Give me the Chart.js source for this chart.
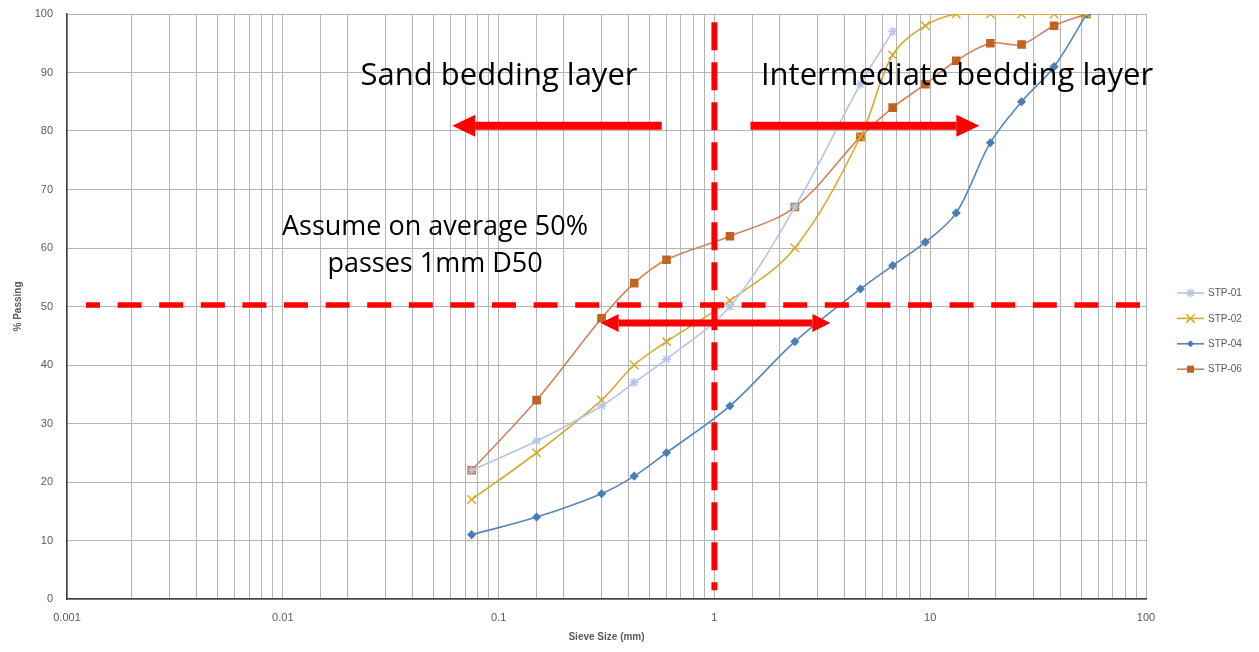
<!DOCTYPE html>
<html>
<head>
<meta charset="utf-8">
<title>Sieve analysis</title>
<script src="https://cdn.jsdelivr.net/npm/chart.js@4.4.1/dist/chart.umd.min.js"></script>
<style>
  html, body { margin: 0; padding: 0; background: #ffffff; }
  #wrap { width: 1259px; height: 652px; position: relative; }
</style>
</head>
<body>
<div id="wrap"><canvas id="myChart" width="1259" height="652"></canvas></div>
<script>
'use strict';

// sieve sizes (mm)
var sieveSizes = [0.075, 0.15, 0.3, 0.425, 0.6, 1.18, 2.36, 4.75, 6.7, 9.5, 13.2, 19, 26.5, 37.5, 53];

// % passing per test pit
var stp01 = [22, 27, 33, 37, 41, 50, 67, 88, 97];
var stp02 = [17, 25, 34, 40, 44, 51, 60, 79, 93, 98, 100, 100, 100, 100, 100];
var stp04 = [11, 14, 18, 21, 25, 33, 44, 53, 57, 61, 66, 78, 85, 91, 100];
var stp06 = [22, 34, 48, 54, 58, 62, 67, 79, 84, 88, 92, 95, 94.8, 98, 100];

var seriesNames = ['STP-01', 'STP-02', 'STP-04', 'STP-06'];
var yTicks = [0, 10, 20, 30, 40, 50, 60, 70, 80, 90, 100];

function toPoints(values) {
	var pts = [];
	for (var i = 0; i < values.length; i++) {
		pts.push({ x: sieveSizes[i], y: values[i] });
	}
	return pts;
}

var styles = [
	{ line: '#b7c3e8', fill: '#b7c3e8', point: 'star', r: 4.5 },
	{ line: '#d8aa2c', fill: '#d8aa2c', point: 'crossRot', r: 6 },
	{ line: '#5287bf', fill: '#4a7eb8', point: 'rectRot', r: 3.5 },
	{ line: '#d0845a', fill: '#c2621f', point: 'rect', r: 5 }
];

var allValues = [stp01, stp02, stp04, stp06];
var datasets = [];
for (var s = 0; s < allValues.length; s++) {
	datasets.push({
		label: seriesNames[s],
		data: toPoints(allValues[s]),
		showLine: true,
		tension: 0.35,
		borderColor: styles[s].line,
		borderWidth: 1.6,
		pointStyle: styles[s].point,
		pointRadius: styles[s].r,
		pointHoverRadius: styles[s].r,
		pointBackgroundColor: styles[s].fill,
		pointBorderColor: styles[s].fill,
		pointBorderWidth: 1.5
	});
}

function isDecade(v) {
	var l = Math.log10(v);
	return Math.abs(l - Math.round(l)) < 1e-6;
}

// filled arrow along a horizontal line
function arrow(ctx, x1, x2, y, shaft, headLen, headHalf, both) {
	var dir = x2 > x1 ? 1 : -1;
	var sx = both ? x1 + dir * headLen : x1;
	var ex = x2 - dir * headLen;
	ctx.beginPath();
	ctx.rect(Math.min(sx, ex), y - shaft / 2, Math.abs(ex - sx), shaft);
	ctx.fill();
	ctx.beginPath();
	ctx.moveTo(x2, y);
	ctx.lineTo(ex, y - headHalf);
	ctx.lineTo(ex, y + headHalf);
	ctx.closePath();
	ctx.fill();
	if (both) {
		ctx.beginPath();
		ctx.moveTo(x1, y);
		ctx.lineTo(sx, y - headHalf);
		ctx.lineTo(sx, y + headHalf);
		ctx.closePath();
		ctx.fill();
	}
}

function drawMarker(ctx, style, x, y, r, color) {
	ctx.save();
	ctx.strokeStyle = color;
	ctx.fillStyle = color;
	ctx.lineWidth = 1.5;
	ctx.beginPath();
	var d;
	if (style === 'rect') {
		d = r * Math.SQRT1_2;
		ctx.rect(x - d, y - d, 2 * d, 2 * d);
		ctx.fill();
	} else if (style === 'rectRot') {
		ctx.moveTo(x, y - r); ctx.lineTo(x + r, y); ctx.lineTo(x, y + r); ctx.lineTo(x - r, y);
		ctx.closePath();
		ctx.fill();
	} else if (style === 'crossRot') {
		d = r * Math.SQRT1_2;
		ctx.moveTo(x - d, y - d); ctx.lineTo(x + d, y + d);
		ctx.moveTo(x + d, y - d); ctx.lineTo(x - d, y + d);
		ctx.stroke();
	} else {
		d = r * Math.SQRT1_2;
		ctx.moveTo(x - d, y - d); ctx.lineTo(x + d, y + d);
		ctx.moveTo(x + d, y - d); ctx.lineTo(x - d, y + d);
		ctx.moveTo(x, y - r); ctx.lineTo(x, y + r);
		ctx.moveTo(x - r, y); ctx.lineTo(x + r, y);
		ctx.stroke();
	}
	ctx.restore();
}

var overlayPlugin = {
	id: 'overlay',
	afterDraw: function(chart) {
		var ctx = chart.ctx;
		var xs = chart.scales.x;
		var ys = chart.scales.y;
		var area = chart.chartArea;
		ctx.save();

		// legend on the right
		ctx.font = '10px "Liberation Sans", Arial, sans-serif';
		ctx.textBaseline = 'middle';
		ctx.textAlign = 'left';
		for (var i = 0; i < datasets.length; i++) {
			var ly = 293 + i * 25.4;
			ctx.strokeStyle = styles[i].line;
			ctx.lineWidth = 1.6;
			ctx.beginPath();
			ctx.moveTo(1177, ly);
			ctx.lineTo(1204, ly);
			ctx.stroke();
			drawMarker(ctx, styles[i].point, 1190.5, ly, styles[i].r, styles[i].fill);
			ctx.fillStyle = '#595959';
			ctx.fillText(seriesNames[i], 1208, ly + 0.5);
		}

		ctx.strokeStyle = '#ff0000';
		ctx.fillStyle = '#ff0000';

		// D50 horizontal line
		var y50 = ys.getPixelForValue(50) - 1.5;
		ctx.lineWidth = 5.5;
		ctx.setLineDash([24, 17.6]);
		ctx.lineDashOffset = 10;
		ctx.beginPath();
		ctx.moveTo(area.left + 19, y50);
		ctx.lineTo(area.right - 5, y50);
		ctx.stroke();

		// 1 mm vertical line
		var x1 = xs.getPixelForValue(1);
		ctx.lineWidth = 6;
		ctx.lineDashOffset = 0;
		ctx.setLineDash([28, 12]);
		ctx.beginPath();
		ctx.moveTo(x1, ys.getPixelForValue(98.6));
		ctx.lineTo(x1, ys.getPixelForValue(1.5));
		ctx.stroke();
		ctx.setLineDash([]);

		// arrows
		var yArrow = ys.getPixelForValue(80.9);
		arrow(ctx, xs.getPixelForValue(0.57), xs.getPixelForValue(0.061), yArrow, 8, 23, 11, false);
		arrow(ctx, xs.getPixelForValue(1.47), xs.getPixelForValue(16.9), yArrow, 8, 23, 11, false);
		arrow(ctx, xs.getPixelForValue(0.297), xs.getPixelForValue(3.45), ys.getPixelForValue(47.2), 7, 18, 9, true);

		// text
		ctx.fillStyle = '#000000';
		ctx.textAlign = 'center';
		ctx.textBaseline = 'middle';
		ctx.font = '31px "Open Sans", sans-serif';
		ctx.fillText('Sand bedding layer', 499, 76);
		ctx.fillText('Intermediate bedding layer', 957, 76);
		ctx.font = '27px "Open Sans", sans-serif';
		ctx.fillText('Assume on average 50%', 435, 227);
		ctx.fillText('passes 1mm D50', 435, 264);

		ctx.restore();
	}
};

var ctx = document.getElementById('myChart');
var myChart = new Chart(ctx, {
	type: 'scatter',
	data: { datasets: datasets },
	plugins: [overlayPlugin],
	options: {
		responsive: false,
		animation: false,
		layout: { padding: { left: 0, right: 113, top: 14, bottom: 0 } },
		plugins: {
			legend: { display: false },
			tooltip: { enabled: false }
		},
		scales: {
			x: {
				type: 'logarithmic',
				min: 0.001,
				max: 100,
				afterFit: function(scale) {
					scale.height = 53;
					scale.paddingLeft = 0;
					scale.paddingRight = 0;
				},
				grid: { color: '#b4b4b4', lineWidth: 1, drawTicks: false },
				border: { display: true, color: '#404040', width: 1.5 },
				ticks: {
					autoSkip: false,
					maxRotation: 0,
					padding: 12,
					color: '#595959',
					font: { family: '"Liberation Sans", Arial, sans-serif', size: 11 },
					callback: function(value) {
						return isDecade(value) ? String(Number(Number(value).toPrecision(1))) : '';
					}
				},
				title: {
					display: true,
					text: 'Sieve Size (mm)',
					color: '#595959',
					font: { family: '"Liberation Sans", Arial, sans-serif', size: 10, weight: 'bold' },
					padding: { top: 0, bottom: 9 }
				}
			},
			y: {
				min: 0,
				max: 100,
				afterFit: function(scale) {
					scale.width = 67;
					scale.paddingTop = 0;
					scale.paddingBottom = 0;
				},
				afterBuildTicks: function(scale) {
					scale.ticks = yTicks.map(function(v) { return { value: v }; });
				},
				grid: { color: '#b4b4b4', lineWidth: 1, drawTicks: false },
				border: { display: true, color: '#404040', width: 1.5 },
				ticks: {
					padding: 14,
					color: '#595959',
					font: { family: '"Liberation Sans", Arial, sans-serif', size: 11 }
				},
				title: {
					display: true,
					text: '% Passing',
					color: '#595959',
					font: { family: '"Liberation Sans", Arial, sans-serif', size: 10, weight: 'bold' },
					padding: { top: 12, bottom: 0 }
				}
			}
		}
	}
});
</script>
</body>
</html>
